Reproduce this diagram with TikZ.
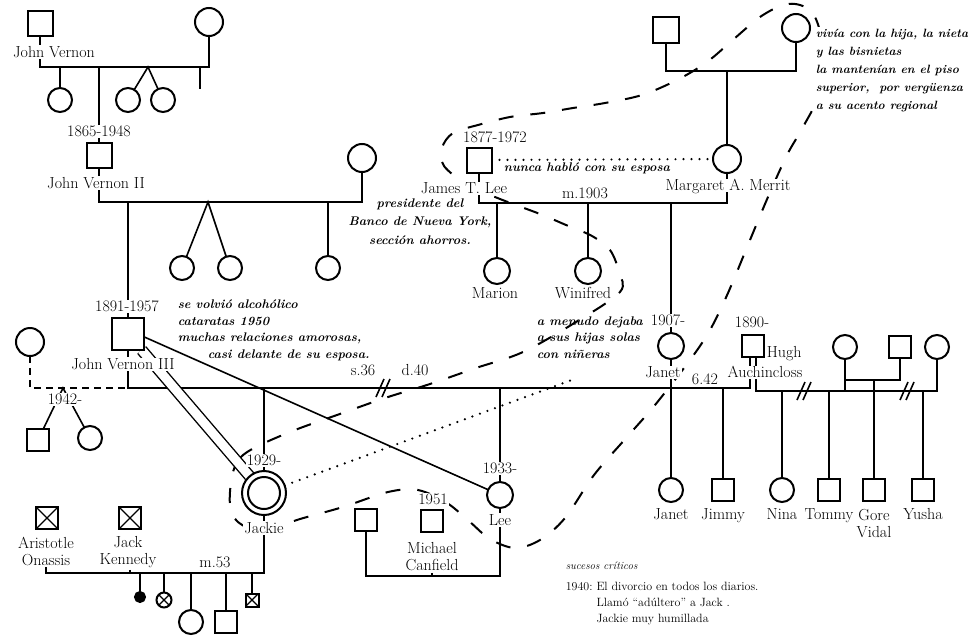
\documentclass[tikz,border=0pt]{standalone}
\usepackage{fontspec}
\usetikzlibrary{calc}
\pgfdeclarelayer{bg}
\pgfsetlayers{bg,main}
\newcommand\labfont{\fontsize{16}{17}\selectfont}
\newcommand\notefont{\fontsize{12.5}{16.5}\selectfont\bfseries\itshape}
\newcommand\smallfont{\fontsize{12}{16}\selectfont}
\tikzset{
  sym/.style={draw, line width=2pt, fill=white, inner sep=0pt, outer sep=0pt},
  male/.style={sym, rectangle, minimum size=#1pt},
  male/.default=24,
  female/.style={sym, circle, minimum size=#1pt},
  female/.default=26,
  xmark/.style={path picture={\draw[line width=1.2pt] (path picture bounding box.south west) -- (path picture bounding box.north east) (path picture bounding box.north west) -- (path picture bounding box.south east);}},
  lab/.style={font=\labfont, fill=white, inner sep=1pt, text height=11pt, text depth=0pt},
  lab2/.style={font=\labfont, fill=white, inner sep=1pt, align=center},
  annot/.style={font=\notefont, inner sep=0pt, align=left},
  bound/.style={line width=2pt, dash pattern=on 15pt off 17pt},
  dots/.style={line width=2.4pt, line cap=round, dash pattern=on 0pt off 8pt},
  divpic/.pic={\draw[line width=1.6pt] (-7,9) -- (1,-9) (-1,9) -- (7,-9);}
}
\begin{document}
\begin{tikzpicture}[x=1pt,y=-1pt,line width=1.6pt]
\useasboundingbox (0,0) rectangle (968,637);
% ---------- Vernon line ----------
\node[male=25] (jv) at (40,23) {};
\node[lab] (jvlab) at (54,52) {John Vernon};
\node[female=28] (jvw) at (209,22) {};
\node[female=24] (c1) at (60,100) {};
\node[female=24] (c2) at (128,100) {};
\node[female=24] (c3) at (163,100) {};
\node[lab] (jv2y) at (99,131) {1865-1948};
\node[male=25] (jv2) at (99,155) {};
\node[lab] (jv2lab) at (96,183) {John Vernon II};
\node[female=28] (jv2w) at (362,158) {};
\node[female=24] (d1) at (182,268) {};
\node[female=24] (d2) at (230,268) {};
\node[female=24] (d3) at (328,268) {};
\node[lab] (jv3y) at (127,306) {1891-1957};
\node[male=32] (jv3) at (128,334) {};
\node[lab] (jv3lab) at (123,364) {John Vernon III};
\node[annot, anchor=north west] (jv3note) at (177,299) {se volvió alcohólico\\cataratas 1950\\muchas relaciones amorosas,\\\hspace*{30pt}casi delante de su esposa.};
\node[female=28] (lw) at (30,342) {};
\node[lab] (k1y) at (65,399) {1942-};
\node[male=22] (k1) at (38,440) {};
\node[female=24] (k2) at (90,438) {};
% ---------- Lee / Merrit line ----------
\node[male=26] (mf) at (666,30) {};
\node[female=28] (mm) at (796,28) {};
\node[annot, anchor=north west, fill=white, inner sep=2pt, font=\fontsize{12}{18}\selectfont\bfseries\itshape] (mmnote) at (813,26) {vivía con la hija, la nieta\\y las bisnietas\\la mantenían en el piso\\superior,\ \ por vergüenza\\a su acento regional};
\node[lab] (jtly) at (495,137) {1877-1972};
\node[male=25] (jtl) at (479,160) {};
\node[lab] (jtllab) at (464,188) {James T. Lee};
\node[annot, align=center, anchor=north, font=\fontsize{12.5}{18.5}\selectfont\bfseries\itshape] (jtlnote) at (420,198) {presidente del\\Banco de Nueva York,\\sección ahorros.};
\node[female=28] (mam) at (727,159) {};
\node[lab] (mamlab) at (728,185) {Margaret A. Merrit};
\node[annot] (spnote) at (587,168) {nunca habló con su esposa};
\node[lab] (m1903) at (585,193) {m.1903};
\node[female=26] (mar) at (497,271) {};
\node[lab] (marlab) at (495,293) {Marion};
\node[female=26] (win) at (588,271) {};
\node[lab] (winlab) at (583,293) {Winifred};
\node[annot, anchor=north west] (jannote) at (536,316) {a menudo dejaba\\a sus hijas solas\\con niñeras};
\node[lab] (jany) at (668,320) {1907-};
\node[female=26] (jan) at (671,346) {};
\node[lab] (janlab) at (663,372) {Janet};
\node[lab] (s36) at (363,370) {s.36};
\node[lab] (d40) at (415,370) {d.40};
\node[lab] (n642) at (705,379) {6.42};
% ---------- Auchincloss ----------
\node[lab] (hy) at (752,322) {1890-};
\node[male=22] (hugh) at (753,346) {};
\node[lab, anchor=west] (hughlab) at (765,352) {Hugh};
\node[lab] (auch) at (765,372) {Auchincloss};
\node[female=24] (wa) at (845,347) {};
\node[male=22] (wb) at (900,347) {};
\node[female=24] (wc) at (937,347) {};
\node[female=24] (cj) at (671,490) {};
\node[male=22] (cjm) at (723,490) {};
\node[female=24] (cn) at (782,490) {};
\node[male=22] (ct) at (829,490) {};
\node[male=22] (cg) at (874,490) {};
\node[male=22] (cy) at (923,490) {};
\node[lab] (cjl) at (671,514) {Janet};
\node[lab] (cjml) at (723,514) {Jimmy};
\node[lab] (cnl) at (782,514) {Nina};
\node[lab] (ctl) at (829,514) {Tommy};
\node[lab2, anchor=north] (cgl) at (874,507.5) {Gore\\Vidal};
\node[lab] (cyl) at (923,514) {Yusha};
% ---------- Jackie & Lee ----------
\node[lab] (jky) at (264,460) {1929-};
\node[female=44] (jk) at (264,493) {};
\draw[line width=2pt] (jk.center) circle (16);
\node[lab] (jklab) at (264,528) {Jackie};
\node[lab] (ley) at (500,468) {1933-};
\node[female=26] (lee) at (500,495) {};
\node[lab] (leelab) at (500,520) {Lee};
\node[male=22] (h1) at (366,520) {};
\node[lab] (mcy) at (433,499) {1951};
\node[male=22] (mc) at (432,521) {};
\node[lab2, anchor=north] (mclab) at (432,541) {Michael\\Canfield};
% ---------- Onassis / Kennedy ----------
\node[male=22, xmark] (ao) at (47,518) {};
\node[lab2, anchor=north] (aolab) at (46,535) {Aristotle\\Onassis};
\node[male=22, xmark] (jfk) at (130,518) {};
\node[lab2, anchor=north] (jfklab) at (128,535) {Jack\\Kennedy};
\node[lab] (m53) at (215,562) {m.53};
\node[sym, circle, fill=black, minimum size=10pt] (ch1) at (140,597) {};
\node[female=15, xmark] (ch2) at (164,600) {};
\node[female=24] (ch3) at (191,622) {};
\node[male=22] (ch4) at (226,622) {};
\node[male=13, xmark] (ch5) at (252,600) {};
% ---------- critical events ----------
\node[font=\fontsize{11}{13}\selectfont\itshape, anchor=base west, inner sep=0pt] (suc) at (565,569) {sucesos críticos};
\node[font=\smallfont, anchor=north west, inner sep=0pt] (ev) at (565,578) {\begin{tabular}{@{}l@{\ }l@{}}1940: & El divorcio en todos los diarios.\\ & Llamó “adúltero” a Jack .\\ & Jackie muy humillada\end{tabular}};

\begin{pgfonlayer}{bg}
\begin{scope}[line width=1.6pt]
\fill[white] (0,0) rectangle (968,637);
% boundary of the women's line
\draw[bound] plot[smooth cycle, tension=0.55] coordinates {
 (258,446) (240,458) (232,476) (230,505) (238,522) (262,531) (300,519)
 (343,507) (388,492) (418,490) (447,503) (470,522) (490,539) (515,548)
 (540,540) (565,518) (594,475) (627,437) (655,405) (690,360) (710,330)
 (728,293) (750,240) (768,197) (787,155) (803,127) (818,95) (822,45)
 (814,15) (800,5) (783,5) (760,17) (735,38) (707,62) (677,80) (642,95)
 (605,103) (573,108) (543,113) (510,117) (478,125) (453,133) (442,148)
 (444,166) (468,185) (500,199) (540,214) (566,225) (592,236) (610,250)
 (619,272) (620,292) (576,322) (523,352) (476,368) (430,384) (385,398)
 (337,415) (295,430)};
% generation 1
\coordinate (a1) at (40,67); \coordinate (a2) at (209,67);
\draw (jv) -- (jv |- jvlab.north);
\draw (jvlab.south -| a1) -- (a1) -- (a2) -- (jvw);
\draw (c1 |- a1) -- (c1);
\coordinate (tw1) at (148,67);
\draw (c2) -- (tw1) -- (c3);
\coordinate (st1) at (200,67); \coordinate (st1b) at (200,89);
\draw (st1) -- (st1b);
\draw (jv2 |- a1) -- (jv2);
\draw (jv2) -- (jv2 |- jv2lab.north);
% generation 2
\coordinate (b1) at (99,202); \coordinate (b2) at (362,202);
\draw (jv2lab.south -| b1) -- (b1) -- (b2) -- (jv2w);
\draw (jv3 |- b1) -- (jv3);
\coordinate (tw2) at (208,202);
\draw (d1) -- (tw2) -- (d2);
\draw (d3 |- b1) -- (d3);
\draw (jv3) -- (jv3 |- jv3lab.north);
% main marriage line
\coordinate (m0) at (128,388); \coordinate (m1) at (30,388);
\coordinate (hL) at (750,388); \coordinate (hR) at (756,391); \coordinate (hC) at (937,391);
\draw (jv3lab.south -| m0) -- (m0) -- (hL) -- (hugh.south -| hL);
\draw[dash pattern=on 7pt off 5pt] (lw) -- (m1) -- (m0);
\coordinate (tw3) at (63,388);
\draw (k1) -- (tw3) -- (k2);
\draw (jk |- m0) -- (jk);
\draw (lee |- m0) -- (lee);
\draw (jan) -- (cj);
\draw (cjm |- m0) -- (cjm);
\draw (hugh.south -| hR) -- (hR) -- (hC) -- (wc);
\draw (cn |- hR) -- (cn);
\draw (ct |- hR) -- (ct);
\draw (cy |- hR) -- (cy);
\draw (wa) -- (wa |- hR);
\coordinate (ab1) at (845,380); \coordinate (ab2) at (900,380);
\draw (ab1) -- (ab2) -- (wb);
\draw (cg |- ab1) -- (cg);
\pic at (383,388) {divpic};
\pic at (804,391) {divpic};
\pic at (907,391) {divpic};
% Lee / Merrit
\coordinate (e1) at (666,71);
\draw (mf) -- (e1) -- (mm |- e1) -- (mm);
\draw (mam |- e1) -- (mam);
\coordinate (f1) at (479,203); \coordinate (f2) at (727,203);
\draw (jtl) -- (f1) -- (f2) -- (mam);
\draw (mar |- f1) -- (mar);
\draw (win |- f1) -- (win);
\draw (jan |- f1) -- (jan);
\draw[dots] (jtl) -- (mam);
% John Vernon III relations
\draw (jv3.-10) -- (lee);
\draw[double, double distance=9pt, line width=1.4pt] (jv3) -- (jk);
\coordinate (dotend) at (577,378);
\draw[dots] (jk) -- (dotend);
\draw (jk) -- (jklab);
\draw (lee) -- (leelab);
% Kennedy / Onassis
\coordinate (o1) at (46,573); \coordinate (o2) at (264,573);
\draw (aolab.south -| o1) -- (o1) -- (o2) -- (jklab);
\draw (jfklab.south -| jfk) -- (jfk |- o1);
\draw (ch1 |- o1) -- (ch1);
\draw (ch2 |- o1) -- (ch2);
\draw (ch3 |- o1) -- (ch3);
\draw (ch4 |- o1) -- (ch4);
\draw (ch5 |- o1) -- (ch5);
% Canfield
\coordinate (p1) at (366,576); \coordinate (p2) at (500,576);
\draw (h1) -- (p1) -- (p2) -- (leelab);
\draw (mclab.south -| mc) -- (mc |- p1);
\end{scope}
\end{pgfonlayer}
\end{tikzpicture}
\end{document}
